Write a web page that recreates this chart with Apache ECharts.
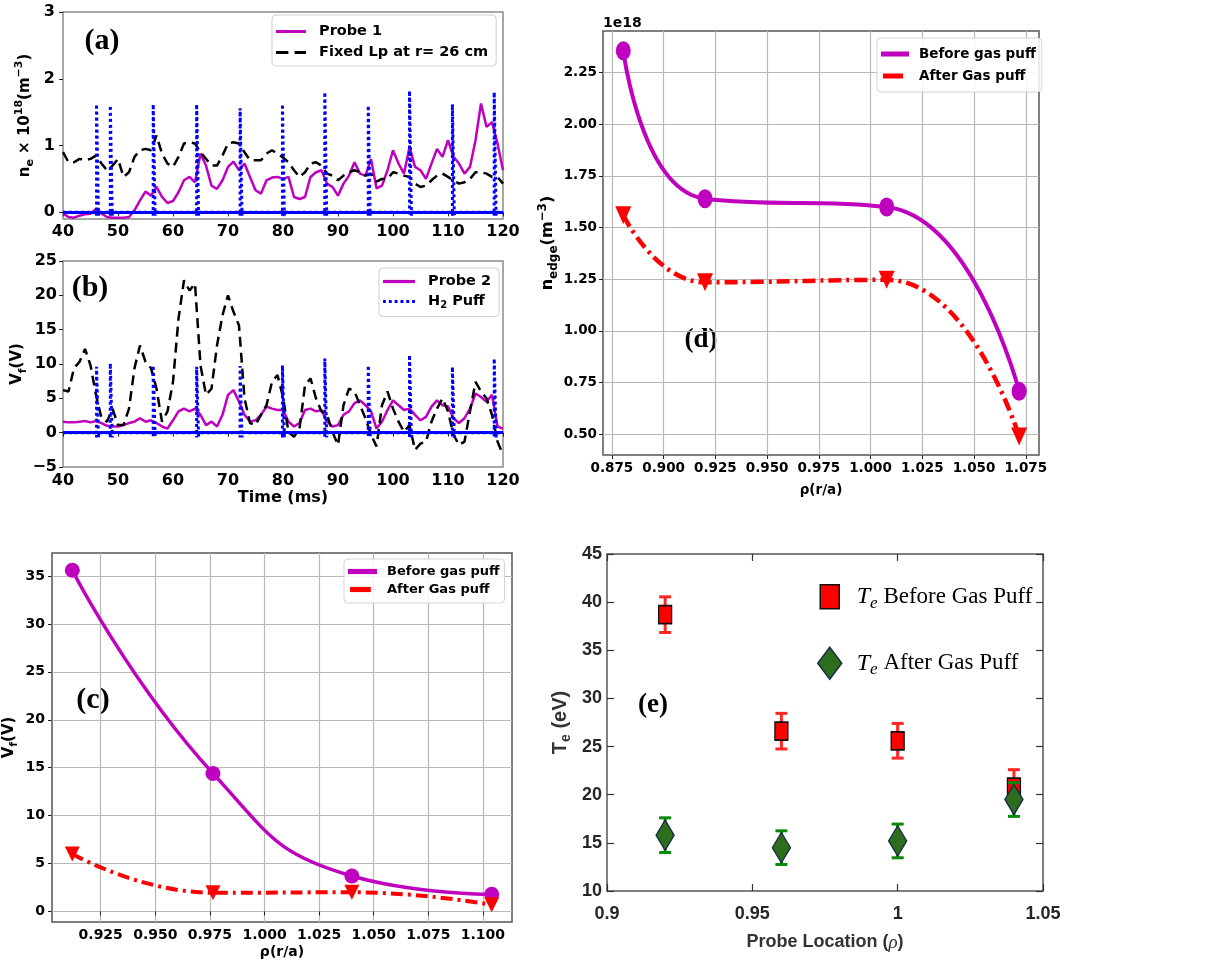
<!DOCTYPE html>
<html>
<head>
<meta charset="utf-8">
<title>Probe measurements before and after H2 gas puff</title>
<script src="https://cdn.jsdelivr.net/npm/echarts@6/dist/echarts.min.js"></script>
<style>
  html, body { margin: 0; padding: 0; background: #fff; }
  #chart { width: 1209px; height: 962px; }
</style>
</head>
<body>
<div id="chart"></div>
<script>
// ---- data ----
// (a), (b): time traces, one sample per ms
const timeMs = [40, 41, 42, 43, 44, 45, 46, 47, 48, 49, 50, 51, 52, 53, 54, 55, 56, 57, 58, 59,
  60, 61, 62, 63, 64, 65, 66, 67, 68, 69, 70, 71, 72, 73, 74, 75, 76, 77, 78, 79,
  80, 81, 82, 83, 84, 85, 86, 87, 88, 89, 90, 91, 92, 93, 94, 95, 96, 97, 98, 99,
  100, 101, 102, 103, 104, 105, 106, 107, 108, 109, 110, 111, 112, 113, 114, 115, 116, 117, 118, 119, 120];

const probe1Density = [-0.02, -0.07, -0.08, -0.05, -0.03, -0.02, 0.05, -0.02, -0.07, -0.08, -0.08, -0.08, -0.07, 0.03, 0.18, 0.31, 0.25, 0.38, 0.23, 0.14,
  0.17, 0.30, 0.48, 0.53, 0.45, 0.88, 0.70, 0.40, 0.35, 0.48, 0.68, 0.76, 0.63, 0.73, 0.53, 0.33, 0.28, 0.48, 0.52, 0.53,
  0.50, 0.53, 0.23, 0.20, 0.23, 0.53, 0.60, 0.63, 0.43, 0.38, 0.25, 0.43, 0.55, 0.75, 0.58, 0.55, 0.80, 0.36, 0.40, 0.63,
  0.93, 0.73, 0.58, 0.98, 0.68, 0.63, 0.50, 0.73, 0.95, 0.83, 1.08, 0.83, 0.73, 0.58, 0.68, 1.08, 1.63, 1.28, 1.35, 1.03, 0.63];

const fixedLpDensity = [0.90, 0.75, 0.75, 0.80, 0.78, 0.80, 0.85, 0.73, 0.63, 0.70, 0.80, 0.53, 0.60, 0.83, 0.93, 0.95, 0.93, 1.15, 0.88, 0.73,
  0.68, 0.83, 1.03, 1.05, 1.03, 0.90, 0.80, 0.70, 0.70, 0.85, 1.03, 1.05, 1.03, 0.90, 0.78, 0.78, 0.78, 0.88, 0.93, 0.88,
  0.82, 0.75, 0.63, 0.53, 0.60, 0.73, 0.75, 0.70, 0.58, 0.55, 0.48, 0.55, 0.60, 0.63, 0.60, 0.55, 0.58, 0.46, 0.50, 0.50,
  0.60, 0.58, 0.55, 0.53, 0.43, 0.38, 0.40, 0.48, 0.55, 0.58, 0.53, 0.48, 0.43, 0.45, 0.50, 0.60, 0.60, 0.58, 0.53, 0.53, 0.43];

const probe2Vf = [1.6, 1.5, 1.5, 1.6, 1.7, 1.5, 1.7, 1.4, 1.0, 0.9, 0.9, 1.1, 1.4, 1.6, 2.1, 1.6, 1.8, 1.4, 0.9, 0.6,
  1.8, 3.1, 3.5, 3.1, 3.5, 2.6, 1.1, 1.6, 0.9, 2.6, 5.5, 6.2, 4.5, 2.6, 1.6, 1.8, 2.6, 3.8, 3.5, 3.3,
  3.3, 1.6, 0.9, 1.4, 3.3, 3.5, 3.1, 3.3, 1.6, 0.9, 1.1, 2.6, 3.1, 4.3, 4.7, 4.0, 3.1, 0.6, 1.6, 3.3,
  4.7, 4.0, 3.3, 3.5, 2.6, 1.8, 2.3, 3.8, 4.7, 4.0, 3.8, 2.1, 1.4, 2.1, 3.5, 5.7, 5.2, 4.5, 5.5, 0.9, 0.6];

const fixedLpVf = [6.2, 6.0, 9.4, 10.3, 12.2, 9.8, 5.5, 2.1, 1.6, 3.5, 1.1, 1.1, 3.5, 9.4, 12.7, 10.3, 9.4, 6.4, 1.6, 3.1,
  7.4, 16.6, 22.2, 20.7, 21.7, 9.8, 5.5, 6.4, 12.7, 17.1, 20.0, 17.6, 15.6, 5.0, 1.4, 1.1, 2.6, 4.0, 7.4, 8.4,
  5.2, 0.1, -0.6, 0.6, 6.9, 7.9, 5.0, 3.1, 2.6, 0.1, -1.8, 4.0, 6.4, 6.0, 4.0, 2.1, -0.3, -2.0, 4.0, 6.0,
  3.5, 1.6, 0.1, 1.1, -2.5, -1.6, -1.3, 1.6, 3.5, 5.0, 3.1, -0.3, -1.8, -1.3, 3.1, 7.4, 6.0, 5.0, 2.6, -1.3, -3.2];

// H2 puff pulses (start time, peak height in each panel)
const puffTimes = [46.1, 48.6, 56.4, 64.3, 72.2, 79.9, 87.6, 95.5, 103.0, 110.8, 118.4];
const puffPeakDensity = [1.62, 1.60, 1.62, 1.62, 1.56, 1.62, 1.80, 1.60, 1.82, 1.62, 1.80];
const puffPeakVf = [9.6, 10.1, 9.8, 9.6, 9.7, 9.8, 10.8, 9.8, 11.3, 9.6, 10.8];
const puffWidthMs = 0.35;
const puffDipDensity = -0.05;
const puffDipVf = -0.7;

// (d) edge density, units of 1e18 m^-3
const rhoD = [0.8805, 0.920, 1.0078, 1.0718];
const densityBefore = [2.354, 1.639, 1.599, 0.708];
const densityAfter = [1.559, 1.235, 1.247, 0.49];
const rhoTicksD = [0.875, 0.900, 0.925, 0.950, 0.975, 1.000, 1.025, 1.050, 1.075];
const densityTicks = [0.50, 0.75, 1.00, 1.25, 1.50, 1.75, 2.00, 2.25];

// (c) floating potential
const rhoC = [0.912, 0.9764, 1.040, 1.104];
const vfBefore = [35.6, 14.4, 3.7, 1.8];
const vfAfter = [6.0, 1.95, 2.0, 0.7];
const rhoTicksC = [0.925, 0.950, 0.975, 1.000, 1.025, 1.050, 1.075, 1.100];
const vfTicks = [0, 5, 10, 15, 20, 25, 30, 35];

// (e) electron temperature with error bars
const probeLocation = [0.92, 0.96, 1.00, 1.04];
const teBefore = [38.7, 26.6, 25.6, 20.8];
const teBeforeErr = [1.85, 1.85, 1.8, 1.8];
const teAfter = [15.8, 14.5, 15.2, 19.5];
const teAfterErr = [1.8, 1.75, 1.75, 1.75];

// ---- styling ----
const SANS = "'DejaVu Sans', sans-serif";
const SERIF = "'Liberation Serif', 'Times New Roman', serif";
const NARROW = "'Liberation Sans Narrow', 'Arial Narrow', 'Liberation Sans', sans-serif";
const MAGENTA = '#bf00bf';
const RED = '#ff0000';
const BLUE = '#0000ff';

const ICON_SOLID = 'path://M0,0H30V3H0Z';
const ICON_DASH = 'path://M0,0H12V3H0ZM18,0H29V3H18Z';
const ICON_DOT = 'path://M0,0H3V3H0ZM6,0H9V3H6ZM12,0H15V3H12ZM18,0H21V3H18ZM24,0H27V3H24ZM30,0H33V3H30Z';
const ICON_THICK = 'path://M0,0H28V5H0Z';
const ICON_SHORT = 'path://M0,0M28,5M2,0H22V5H2Z';
const ICON_SQUARE = 'path://M0,0M24,32M2.5,4H21.5V28H2.5Z';
const ICON_DIAMOND = 'path://M12,0L24,16L12,32L0,16Z';

function pairs(xs, ys) {
  return xs.map((x, i) => [x, ys[i]]);
}

// square pulses on a zero baseline
function puffTrace(times, peaks, dip) {
  const pts = [[timeMs[0], 0]];
  times.forEach((t, i) => {
    pts.push([t, 0], [t, dip], [t, peaks[i]], [t + puffWidthMs, peaks[i]], [t + puffWidthMs, dip], [t + puffWidthMs, 0]);
  });
  pts.push([timeMs[timeMs.length - 1], 0]);
  return pts;
}

function errorBarItem(params, api) {
  const x = api.value(0);
  const lo = api.coord([x, api.value(1)]);
  const hi = api.coord([x, api.value(2)]);
  const half = 6;
  const style = { stroke: api.visual('color'), lineWidth: 3 };
  return {
    type: 'group',
    children: [
      { type: 'line', shape: { x1: lo[0], y1: lo[1], x2: hi[0], y2: hi[1] }, style: style },
      { type: 'line', shape: { x1: lo[0] - half, y1: lo[1], x2: lo[0] + half, y2: lo[1] }, style: style },
      { type: 'line', shape: { x1: hi[0] - half, y1: hi[1], x2: hi[0] + half, y2: hi[1] }, style: style }
    ]
  };
}

function boldLabel(size, extra) {
  return Object.assign({ fontFamily: SANS, fontWeight: 'bold', fontSize: size, color: '#000' }, extra || {});
}

function subRich(size) {
  return {
    b: { fontFamily: SANS, fontWeight: 'bold', fontSize: size, lineHeight: size + 7, color: '#000' },
    s: { fontFamily: SANS, fontWeight: 'bold', fontSize: size - 4, lineHeight: size - 4, verticalAlign: 'bottom', color: '#000' },
    p: { fontFamily: SANS, fontWeight: 'bold', fontSize: size - 4, lineHeight: size - 4, verticalAlign: 'top', color: '#000' }
  };
}

const outTick = { length: 4, lineStyle: { color: '#222', width: 1 } };
const inTick = { inside: true, length: 7, lineStyle: { color: '#333', width: 1.2 } };
const gridLine = { show: true, lineStyle: { color: '#b8b8b8', width: 1.2 } };
const eLabel = { fontFamily: NARROW, fontWeight: 'bold', fontSize: 18, color: '#262626' };

const chart = echarts.init(document.getElementById('chart'));

const option = {
  animation: false,
  backgroundColor: '#fff',
  grid: [
    { left: 63, top: 12, width: 440, height: 207, show: true, borderColor: '#8a8a8a', borderWidth: 1.5 },
    { left: 63, top: 261, width: 440, height: 206, show: true, borderColor: '#8a8a8a', borderWidth: 1.5 },
    { left: 603, top: 31, width: 436, height: 424, show: true, borderColor: '#555', borderWidth: 1.5 },
    { left: 52, top: 553, width: 460, height: 369, show: true, borderColor: '#555', borderWidth: 1.5 },
    { left: 607, top: 554, width: 436, height: 337, show: true, borderColor: '#555', borderWidth: 1.5 }
  ],
  xAxis: [
    { gridIndex: 0, type: 'value', min: 40, max: 120, interval: 10, axisLine: { show: false }, axisTick: outTick,
      axisLabel: boldLabel(16, { margin: 5 }), splitLine: { show: false } },
    { gridIndex: 1, type: 'value', min: 40, max: 120, interval: 10, axisLine: { show: false }, axisTick: outTick,
      axisLabel: boldLabel(16, { margin: 6 }), splitLine: { show: false },
      name: 'Time (ms)', nameLocation: 'middle', nameGap: 22, nameTextStyle: boldLabel(16) },
    { gridIndex: 2, type: 'value', min: 0.8707, max: 1.0814, axisLine: { show: false },
      axisTick: Object.assign({ customValues: rhoTicksD }, outTick),
      axisLabel: boldLabel(13.5, { customValues: rhoTicksD, margin: 6, formatter: v => v.toFixed(3) }),
      splitLine: gridLine,
      name: 'ρ(r/a)', nameLocation: 'middle', nameGap: 28, nameTextStyle: boldLabel(13.5) },
    { gridIndex: 3, type: 'value', min: 0.9027, max: 1.1133, axisLine: { show: false },
      axisTick: Object.assign({ customValues: rhoTicksC }, outTick),
      axisLabel: boldLabel(14, { customValues: rhoTicksC, margin: 6, formatter: v => v.toFixed(3) }),
      splitLine: gridLine,
      name: 'ρ(r/a)', nameLocation: 'middle', nameGap: 23, nameTextStyle: boldLabel(14) },
    { gridIndex: 4, type: 'value', min: 0.9, max: 1.05, interval: 0.05, axisLine: { show: false }, axisTick: inTick,
      axisLabel: Object.assign({ margin: 14 }, eLabel),
      splitLine: { show: false },
      name: '{n|Probe Location (}{i|ρ}{n|)}', nameLocation: 'middle', nameGap: 42,
      nameTextStyle: { rich: {
        n: { fontFamily: NARROW, fontWeight: 'bold', fontSize: 18, color: '#333' },
        i: { fontFamily: SERIF, fontStyle: 'italic', fontSize: 19, color: '#333' } } } },
    { gridIndex: 4, type: 'value', position: 'top', min: 0.9, max: 1.05, interval: 0.05, axisLine: { show: false },
      axisTick: inTick, axisLabel: { show: false }, splitLine: { show: false } }
  ],
  yAxis: [
    { gridIndex: 0, type: 'value', min: -0.1, max: 3, axisLine: { show: false },
      axisTick: Object.assign({ customValues: [0, 1, 2, 3] }, outTick),
      axisLabel: boldLabel(16, { customValues: [0, 1, 2, 3], margin: 8 }), splitLine: { show: false },
      name: '{b|n}{s|e}{b| × 10}{p|18}{b|(m}{p|−3}{b|)}', nameLocation: 'middle', nameGap: 27,
      nameTextStyle: { rich: subRich(15) } },
    { gridIndex: 1, type: 'value', min: -5, max: 25, interval: 5, axisLine: { show: false }, axisTick: outTick,
      axisLabel: boldLabel(16, { margin: 6, formatter: v => (v < 0 ? '−' + (-v) : String(v)) }), splitLine: { show: false },
      name: '{b|V}{s|f}{b|(V)}', nameLocation: 'middle', nameGap: 27, nameTextStyle: { rich: subRich(15) } },
    { gridIndex: 2, type: 'value', min: 0.4, max: 2.45, axisLine: { show: false },
      axisTick: Object.assign({ customValues: densityTicks }, outTick),
      axisLabel: boldLabel(13.5, { customValues: densityTicks, margin: 6, formatter: v => v.toFixed(2) }),
      splitLine: gridLine,
      name: '{b|n}{s|edge}{b|(m}{p|−3}{b|)}', nameLocation: 'middle', nameGap: 42, nameTextStyle: { rich: subRich(16) } },
    { gridIndex: 3, type: 'value', min: -1.1, max: 37.4, axisLine: { show: false },
      axisTick: Object.assign({ customValues: vfTicks }, outTick),
      axisLabel: boldLabel(14, { customValues: vfTicks, margin: 7 }),
      splitLine: gridLine,
      name: '{b|V}{s|f}{b|(V)}', nameLocation: 'middle', nameGap: 32, nameTextStyle: { rich: subRich(15) } },
    { gridIndex: 4, type: 'value', min: 10, max: 45, interval: 5, axisLine: { show: false }, axisTick: inTick,
      axisLabel: Object.assign({ margin: 5 }, eLabel),
      splitLine: { show: false },
      name: '{b|T}{s|e}{b| (eV)}', nameLocation: 'middle', nameGap: 34,
      nameTextStyle: { rich: {
        b: { fontFamily: NARROW, fontWeight: 'bold', fontSize: 20, lineHeight: 26, color: '#333' },
        s: { fontFamily: NARROW, fontWeight: 'bold', fontSize: 14, lineHeight: 14, verticalAlign: 'bottom', color: '#333' } } } },
    { gridIndex: 4, type: 'value', position: 'right', min: 10, max: 45, interval: 5, axisLine: { show: false },
      axisTick: inTick, axisLabel: { show: false }, splitLine: { show: false } }
  ],
  legend: [
    { left: 272, top: 15, orient: 'vertical', selectedMode: false, itemWidth: 30, itemHeight: 16, itemGap: 6,
      padding: [9, 8, 6, 4], borderColor: '#cfcfcf', borderWidth: 1, borderRadius: 4, backgroundColor: 'rgba(255,255,255,0.85)',
      textStyle: { fontFamily: SANS, fontWeight: 'bold', fontSize: 14.5, color: '#000', padding: [0, 0, 0, 8] },
      data: [
        { name: 'Probe 1', icon: ICON_SOLID, itemStyle: { color: MAGENTA, borderWidth: 0 } },
        { name: 'Fixed Lp at r= 26 cm', icon: ICON_DASH, itemStyle: { color: '#000', borderWidth: 0 } }
      ] },
    { left: 379, top: 268, orient: 'vertical', selectedMode: false, itemWidth: 32, itemHeight: 16, itemGap: 5,
      padding: [6, 8, 6, 4], borderColor: '#cfcfcf', borderWidth: 1, borderRadius: 4, backgroundColor: 'rgba(255,255,255,0.85)',
      textStyle: { fontFamily: SANS, fontWeight: 'bold', fontSize: 14.5, color: '#000', padding: [0, 0, 0, 8],
        rich: { t: { fontFamily: SANS, fontWeight: 'bold', fontSize: 14.5, lineHeight: 18 },
                s: { fontFamily: SANS, fontWeight: 'bold', fontSize: 10, lineHeight: 10, verticalAlign: 'bottom' } } },
      formatter: name => (name === 'H2 Puff' ? '{t|H}{s|2}{t| Puff}' : '{t|' + name + '}'),
      data: [
        { name: 'Probe 2', icon: ICON_SOLID, itemStyle: { color: MAGENTA, borderWidth: 0 } },
        { name: 'H2 Puff', icon: ICON_DOT, itemStyle: { color: BLUE, borderWidth: 0 } }
      ] },
    { left: 877, top: 38, orient: 'vertical', selectedMode: false, itemWidth: 28, itemHeight: 16, itemGap: 8,
      padding: [9, 6, 9, 4], borderColor: '#d5d5d5', borderWidth: 1, borderRadius: 4, backgroundColor: 'rgba(255,255,255,0.85)',
      textStyle: { fontFamily: SANS, fontWeight: 'bold', fontSize: 13.5, color: '#000', padding: [0, 0, 0, 5] },
      data: [
        { name: 'Before gas puff', icon: ICON_THICK, itemStyle: { color: MAGENTA, borderWidth: 0 } },
        { name: 'After Gas puff', icon: ICON_SHORT, itemStyle: { color: RED, borderWidth: 0 } }
      ] },
    { left: 344, top: 559, orient: 'vertical', selectedMode: false, itemWidth: 29, itemHeight: 15, itemGap: 5,
      padding: [6, 5, 7, 4], borderColor: '#d5d5d5', borderWidth: 1, borderRadius: 4, backgroundColor: 'rgba(255,255,255,0.85)',
      textStyle: { fontFamily: SANS, fontWeight: 'bold', fontSize: 13, color: '#000', padding: [0, 0, 0, 5] },
      data: [
        { name: 'Before gas puff', icon: ICON_THICK, itemStyle: { color: MAGENTA, borderWidth: 0 } },
        { name: 'After Gas puff', icon: ICON_SHORT, itemStyle: { color: RED, borderWidth: 0 } }
      ] },
    { left: 817, top: 580, orient: 'vertical', selectedMode: false, itemWidth: 24, itemHeight: 32, itemGap: 33,
      padding: 0,
      textStyle: { fontFamily: SERIF, fontSize: 23, color: '#000', padding: [0, 0, 0, 10],
        rich: {
          i: { fontFamily: SERIF, fontStyle: 'italic', fontSize: 24, lineHeight: 30, color: '#000' },
          s: { fontFamily: SERIF, fontStyle: 'italic', fontSize: 17, lineHeight: 17, verticalAlign: 'bottom', color: '#000' },
          n: { fontFamily: SERIF, fontSize: 23, lineHeight: 30, color: '#000' } } },
      formatter: name => '{i|T}{s|e}{n| ' + name.replace('Te ', '') + '}',
      data: [
        { name: 'Te Before Gas Puff', icon: ICON_SQUARE, itemStyle: { color: RED, borderColor: '#111', borderWidth: 1.5, opacity: 1 } },
        { name: 'Te After Gas Puff', icon: ICON_DIAMOND, itemStyle: { color: '#2d6e1d', borderColor: '#1b2f45', borderWidth: 1.5, opacity: 1 } }
      ] }
  ],
  graphic: [
    { type: 'text', x: 102, y: 41, style: { text: '(a)', fontFamily: SERIF, fontWeight: 'bold', fontSize: 30, fill: '#000', align: 'center', verticalAlign: 'middle' } },
    { type: 'text', x: 90, y: 288, style: { text: '(b)', fontFamily: SERIF, fontWeight: 'bold', fontSize: 30, fill: '#000', align: 'center', verticalAlign: 'middle' } },
    { type: 'text', x: 93, y: 700, style: { text: '(c)', fontFamily: SERIF, fontWeight: 'bold', fontSize: 30, fill: '#000', align: 'center', verticalAlign: 'middle' } },
    { type: 'text', x: 701, y: 340, style: { text: '(d)', fontFamily: SERIF, fontWeight: 'bold', fontSize: 27, fill: '#000', align: 'center', verticalAlign: 'middle' } },
    { type: 'text', x: 653, y: 705, style: { text: '(e)', fontFamily: SERIF, fontWeight: 'bold', fontSize: 27, fill: '#000', align: 'center', verticalAlign: 'middle' } },
    { type: 'text', x: 603, y: 23, style: { text: '1e18', fontFamily: SANS, fontWeight: 'bold', fontSize: 14, fill: '#000', align: 'left', verticalAlign: 'middle' } }
  ],
  series: [
    // (a)
    { name: 'Probe 1', type: 'line', xAxisIndex: 0, yAxisIndex: 0, data: pairs(timeMs, probe1Density), symbol: 'none',
      lineStyle: { color: MAGENTA, width: 2.5 }, itemStyle: { color: MAGENTA }, z: 2 },
    { name: 'Fixed Lp at r= 26 cm', type: 'line', xAxisIndex: 0, yAxisIndex: 0, data: pairs(timeMs, fixedLpDensity), symbol: 'none',
      lineStyle: { color: '#000', width: 2.5, type: [10, 6] }, itemStyle: { color: '#000' }, z: 3 },
    { name: 'H2 Puff', type: 'line', xAxisIndex: 0, yAxisIndex: 0, data: puffTrace(puffTimes, puffPeakDensity, puffDipDensity), symbol: 'none',
      lineStyle: { color: BLUE, width: 3, type: [3, 3] }, itemStyle: { color: BLUE }, z: 4,
      markLine: { silent: true, symbol: 'none', label: { show: false }, lineStyle: { color: BLUE, width: 3, type: 'solid' }, data: [{ yAxis: 0 }] } },
    // (b)
    { name: 'Probe 2', type: 'line', xAxisIndex: 1, yAxisIndex: 1, data: pairs(timeMs, probe2Vf), symbol: 'none',
      lineStyle: { color: MAGENTA, width: 2.5 }, itemStyle: { color: MAGENTA }, z: 2 },
    { name: 'Fixed Lp Vf', type: 'line', xAxisIndex: 1, yAxisIndex: 1, data: pairs(timeMs, fixedLpVf), symbol: 'none',
      lineStyle: { color: '#000', width: 2.5, type: [10, 6] }, itemStyle: { color: '#000' }, z: 3 },
    { name: 'H2 Puff', type: 'line', xAxisIndex: 1, yAxisIndex: 1, data: puffTrace(puffTimes, puffPeakVf, puffDipVf), symbol: 'none',
      lineStyle: { color: BLUE, width: 3, type: [3, 3] }, itemStyle: { color: BLUE }, z: 4,
      markLine: { silent: true, symbol: 'none', label: { show: false }, lineStyle: { color: BLUE, width: 3, type: 'solid' }, data: [{ yAxis: 0 }] } },
    // (d)
    { name: 'Before gas puff', type: 'line', xAxisIndex: 2, yAxisIndex: 2, data: pairs(rhoD, densityBefore), smooth: true, symbol: 'none',
      lineStyle: { color: MAGENTA, width: 4 }, itemStyle: { color: MAGENTA }, z: 2 },
    { type: 'scatter', xAxisIndex: 2, yAxisIndex: 2, data: pairs(rhoD, densityBefore), symbol: 'circle', symbolSize: [15, 19],
      itemStyle: { color: MAGENTA, opacity: 1 }, z: 3 },
    { name: 'After Gas puff', type: 'line', xAxisIndex: 2, yAxisIndex: 2, data: pairs(rhoD, densityAfter), smooth: true, symbol: 'none',
      lineStyle: { color: RED, width: 4.5, type: [13, 5, 3, 5] }, itemStyle: { color: RED }, z: 2 },
    { type: 'scatter', xAxisIndex: 2, yAxisIndex: 2, data: pairs(rhoD, densityAfter), symbol: 'triangle', symbolRotate: 180, symbolSize: [16, 18],
      itemStyle: { color: RED, opacity: 1 }, z: 3 },
    // (c)
    { name: 'Before gas puff', type: 'line', xAxisIndex: 3, yAxisIndex: 3, data: pairs(rhoC, vfBefore), smooth: true, symbol: 'none',
      lineStyle: { color: MAGENTA, width: 3.5 }, itemStyle: { color: MAGENTA }, z: 2 },
    { type: 'scatter', xAxisIndex: 3, yAxisIndex: 3, data: pairs(rhoC, vfBefore), symbol: 'circle', symbolSize: 15,
      itemStyle: { color: MAGENTA, opacity: 1 }, z: 3 },
    { name: 'After Gas puff', type: 'line', xAxisIndex: 3, yAxisIndex: 3, data: pairs(rhoC, vfAfter), smooth: true, symbol: 'none',
      lineStyle: { color: RED, width: 4, type: [12, 5, 3, 5] }, itemStyle: { color: RED }, z: 2 },
    { type: 'scatter', xAxisIndex: 3, yAxisIndex: 3, data: pairs(rhoC, vfAfter), symbol: 'triangle', symbolRotate: 180, symbolSize: [15, 15],
      itemStyle: { color: RED, opacity: 1 }, z: 3 },
    // (e)
    { type: 'custom', xAxisIndex: 4, yAxisIndex: 4, renderItem: errorBarItem, itemStyle: { color: '#ff2626' }, z: 2,
      encode: { x: 0, y: [1, 2] },
      data: probeLocation.map((x, i) => [x, teBefore[i] - teBeforeErr[i], teBefore[i] + teBeforeErr[i]]) },
    { name: 'Te Before Gas Puff', type: 'scatter', xAxisIndex: 4, yAxisIndex: 4, data: pairs(probeLocation, teBefore),
      symbol: 'rect', symbolSize: [13, 18], itemStyle: { color: RED, borderColor: '#111', borderWidth: 1.5, opacity: 1 }, z: 3 },
    { type: 'custom', xAxisIndex: 4, yAxisIndex: 4, renderItem: errorBarItem, itemStyle: { color: '#0a8a0a' }, z: 4,
      encode: { x: 0, y: [1, 2] },
      data: probeLocation.map((x, i) => [x, teAfter[i] - teAfterErr[i], teAfter[i] + teAfterErr[i]]) },
    { name: 'Te After Gas Puff', type: 'scatter', xAxisIndex: 4, yAxisIndex: 4, data: pairs(probeLocation, teAfter),
      symbol: 'diamond', symbolSize: [18, 30], itemStyle: { color: '#2d6e1d', borderColor: '#1b2f45', borderWidth: 1.5, opacity: 1 }, z: 5 }
  ]
};

chart.setOption(option);
</script>
</body>
</html>
